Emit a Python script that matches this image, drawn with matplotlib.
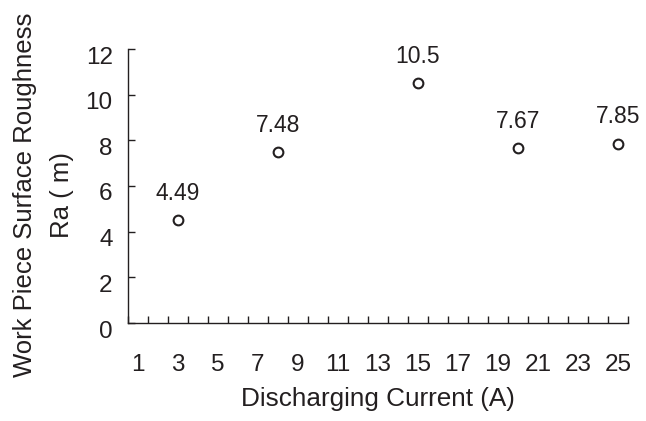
import matplotlib.pyplot as plt
import matplotlib.transforms as mtransforms
import numpy as np

# data
current = [3, 8, 15, 20, 25]
roughness = [4.49, 7.48, 10.5, 7.67, 7.85]
value_labels = ["4.49", "7.48", "10.5", "7.67", "7.85"]
x_tick_values = list(range(1, 26, 2))
y_tick_values = [0, 2, 4, 6, 8, 10, 12]

ink = "#231f20"
plt.rcParams["font.family"] = ["Liberation Sans", "DejaVu Sans"]

fig = plt.figure(figsize=(6.46, 4.21), dpi=100)
ax = fig.add_axes([128 / 646, 1 - 323 / 421, 500 / 646, 274 / 421])

ax.plot(current, roughness, linestyle="none", marker="o", ms=7,
        mfc="white", mec=ink, mew=1.5, clip_on=False)

for x, y, lab in zip(current, roughness, value_labels):
    ax.annotate(lab, (x, y), xytext=(0, 11), textcoords="offset points",
                ha="center", va="bottom", fontsize=16.5, color=ink)

ax.set_xlim(0.5, 25.5)
ax.set_ylim(0, 12)

# labels at odd currents, tick marks between categories
ax.set_xticks(x_tick_values)
ax.set_xticklabels([str(v) for v in x_tick_values])
ax.set_xticks(np.arange(0.5, 26, 1), minor=True)
ax.tick_params(axis="x", which="major", length=0, pad=22, labelsize=17.5, labelcolor=ink)
ax.tick_params(axis="x", which="minor", direction="in", length=5, width=1, color=ink)

ax.set_yticks(y_tick_values)
ax.tick_params(axis="y", which="major", direction="in", length=5, width=1,
               color=ink, pad=11, labelsize=17.5, labelcolor=ink)
shift = mtransforms.ScaledTranslation(0, -6 / 100, fig.dpi_scale_trans)
for lbl in ax.get_yticklabels():
    lbl.set_transform(lbl.get_transform() + shift)

for side in ["top", "right"]:
    ax.spines[side].set_visible(False)
for side in ["left", "bottom"]:
    ax.spines[side].set_color(ink)
    ax.spines[side].set_linewidth(1)

ax.set_xlabel("Discharging Current (A)", fontsize=18.8, color=ink, labelpad=8)

# y label drawn as two lines, as in the source
fig.text(25 / 646, 1 - 195 / 421, "Work Piece Surface Roughness", rotation=90,
         ha="center", va="center", fontsize=18.5, color=ink)
fig.text(62 / 646, 1 - 195 / 421, "Ra ( m)", rotation=90,
         ha="center", va="center", fontsize=18.5, color=ink)

plt.savefig("out.png", dpi=100)
